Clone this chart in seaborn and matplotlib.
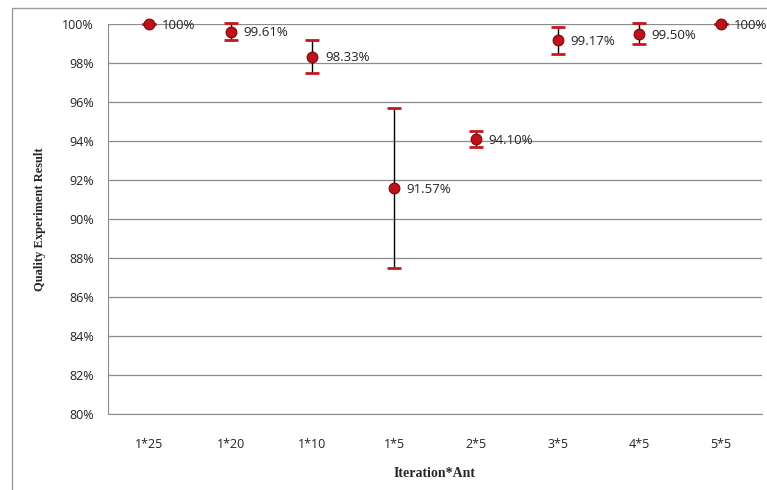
import matplotlib
matplotlib.use("Agg")
import matplotlib.pyplot as plt
import seaborn as sns
import pandas as pd
from matplotlib.patches import Rectangle
from matplotlib.ticker import FuncFormatter

categories = ["1*25", "1*20", "1*10", "1*5", "2*5", "3*5", "4*5", "5*5"]
quality = [100.0, 99.61, 98.33, 91.57, 94.10, 99.17, 99.50, 100.0]
err = [0.0, 0.45, 0.85, 4.1, 0.43, 0.7, 0.53, 0.0]
labels = ["100%", "99.61%", "98.33%", "91.57%", "94.10%", "99.17%", "99.50%", "100%"]

df = pd.DataFrame({"run": categories, "quality": quality, "err": err})

sns.set_style("white")
plt.rcParams["font.family"] = ["Open Sans", "DejaVu Sans"]

fig = plt.figure(figsize=(7.67, 4.9), dpi=100)
ax = fig.add_axes([108 / 767, 1 - 414 / 490, (762 - 108) / 767, (414 - 24) / 490])

# outer chart frame
fig.patches.append(Rectangle((12 / 767, -0.05), 1.1, 1 - 8 / 490 + 0.05, transform=fig.transFigure,
                             fill=False, edgecolor="#9a9a9a", linewidth=1.0, zorder=0))

eb = ax.errorbar(df["run"], df["quality"], yerr=df["err"], fmt="none", ecolor="black",
                 elinewidth=1.0, capsize=5, capthick=2.0, zorder=3)
for cap in eb[1]:
    cap.set_markeredgecolor("#c8161d")
    cap.set_markerfacecolor("#c8161d")
    cap.set_clip_on(False)
for col in eb[2]:
    col.set_clip_on(False)

sns.scatterplot(data=df, x="run", y="quality", ax=ax, s=60, color="#c0101a",
                edgecolor="#7a0a0a", linewidth=0.8, zorder=4, clip_on=False)

for i, (q, lab) in enumerate(zip(quality, labels)):
    ax.annotate(lab, (i, q), xytext=(9, -1), textcoords="offset points", fontsize=9.5,
                color="#222222", va="center", ha="left")

ax.set_ylim(80, 100)
ax.set_xlim(-0.5, len(categories) - 0.5)
ax.set_yticks(range(80, 101, 2))
ax.yaxis.set_major_formatter(FuncFormatter(lambda v, p: f"{int(v)}%"))
ax.grid(axis="y", color="#8c8c8c", linewidth=0.9)
ax.set_axisbelow(True)
for s in ["top", "right"]:
    ax.spines[s].set_visible(False)
for s in ["left", "bottom"]:
    ax.spines[s].set_color("#8c8c8c")
ax.tick_params(axis="both", labelsize=9, colors="#222222", length=0)
ax.tick_params(axis="x", pad=17)
ax.tick_params(axis="y", length=4, color="#8c8c8c", pad=6)

ax.set_xlabel("Iteration*Ant", fontsize=10, fontweight="bold",
              family=["Liberation Serif", "DejaVu Serif"], labelpad=12)
ax.set_ylabel("Quality Experiment Result", fontsize=9, fontweight="bold",
              family=["Liberation Serif", "DejaVu Serif"], labelpad=12)

fig.savefig("out.png", dpi=100)
